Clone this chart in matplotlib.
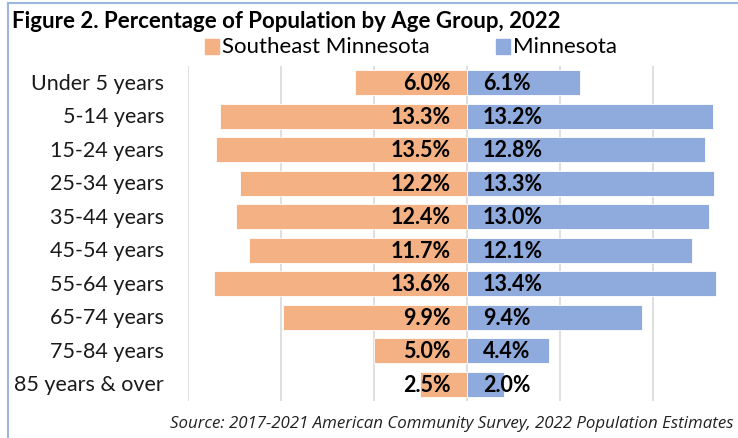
import matplotlib
matplotlib.use("Agg")
import matplotlib.pyplot as plt
from matplotlib.patches import Rectangle
from matplotlib.lines import Line2D

categories = ["Under 5 years", "5-14 years", "15-24 years", "25-34 years", "35-44 years",
              "45-54 years", "55-64 years", "65-74 years", "75-84 years", "85 years & over"]
southeast = [6.0, 13.3, 13.5, 12.2, 12.4, 11.7, 13.6, 9.9, 5.0, 2.5]
minnesota = [6.1, 13.2, 12.8, 13.3, 13.0, 12.1, 13.4, 9.4, 4.4, 2.0]
series_names = ["Southeast Minnesota", "Minnesota"]
title = "Figure 2. Percentage of Population by Age Group, 2022"
source = "Source: 2017-2021 American Community Survey, 2022 Population Estimates"

C_SE = "#F4B183"
C_MN = "#8FAADC"
FONT = ["Lato", "DejaVu Sans"]

W, H = 738, 439
fig = plt.figure(figsize=(W / 100, H / 100), dpi=100)

def fx(px):
    return px / W

def fy(py):
    return 1 - py / H

ax = fig.add_axes([fx(188), fy(402), 1 - fx(188), fy(67) - fy(402)])
ypos = list(range(len(categories)))
ax.barh(ypos, [-v for v in southeast], height=0.74, color=C_SE, edgecolor="white", linewidth=0.6, zorder=3)
ax.barh(ypos, minnesota, height=0.74, color=C_MN, edgecolor="white", linewidth=0.6, zorder=3)
ax.set_xlim(-15, 14.57)
ax.set_ylim(len(categories) - 0.5, -0.5)
for g in [-15, -10, -5, 0, 5, 10]:
    ax.axvline(g, color="#D9D9D9", linewidth=1.2, zorder=1)
for s in ax.spines.values():
    s.set_visible(False)
ax.set_xticks([])
ax.set_yticks([])

for i, (a, b) in enumerate(zip(southeast, minnesota)):
    ax.text(-0.88, i, f"{a:.1f}%", ha="right", va="center", fontsize=15.5, fontweight="bold",
            family=FONT, color="black", zorder=4)
    ax.text(0.86, i, f"{b:.1f}%", ha="left", va="center", fontsize=15.5, fontweight="bold",
            family=FONT, color="black", zorder=4)
    fig.text(fx(164), fy(67 + 33.5 * (i + 0.5)), categories[i], ha="right", va="center",
             fontsize=15.5, family=FONT, color="#1a1a1a")

fig.text(fx(12), fy(21), title, ha="left", va="center", fontsize=16, fontweight="bold",
         family=FONT, color="black")

# legend
fig.patches.append(Rectangle((fx(205), fy(55)), fx(14), fy(40) - fy(55), transform=fig.transFigure,
                             color=C_SE))
fig.text(fx(222), fy(47.5), series_names[0], ha="left", va="center", fontsize=16, family=FONT)
fig.patches.append(Rectangle((fx(496), fy(55)), fx(14), fy(40) - fy(55), transform=fig.transFigure,
                             color=C_MN))
fig.text(fx(513), fy(47.5), series_names[1], ha="left", va="center", fontsize=16, family=FONT)

fig.text(fx(733), fy(424), source, ha="right", va="center", fontsize=12.2, style="italic",
         family=["Open Sans", "DejaVu Sans"], color="#222222")

# border
fig.lines.append(Line2D([fx(8), fx(8)], [0, fy(4)], transform=fig.transFigure, color="#9DB6E0", linewidth=1.5))
fig.lines.append(Line2D([fx(8), 1], [fy(4), fy(4)], transform=fig.transFigure, color="#9DB6E0", linewidth=1.5))

fig.savefig("out.png", dpi=100)
